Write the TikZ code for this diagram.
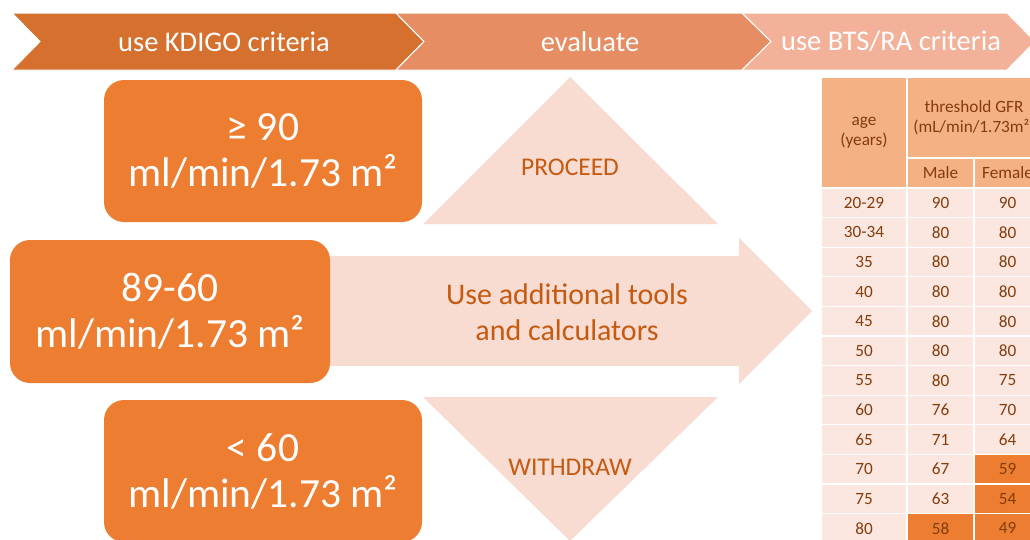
\documentclass[tikz,border=0pt]{standalone}
\usepackage{fontspec}
\setmainfont{Carlito}
\definecolor{chevA}{HTML}{D5702E}
\definecolor{chevB}{HTML}{E68D63}
\definecolor{chevC}{HTML}{F2B198}
\definecolor{boxor}{HTML}{ED7D31}
\definecolor{pinkish}{HTML}{F8DBD1}
\definecolor{darkor}{HTML}{C55A11}
\definecolor{thead}{HTML}{F4B183}
\definecolor{tbody}{HTML}{FBE7DF}
\definecolor{tbrown}{HTML}{843C0C}
\tikzset{
  chev/.style={draw=white, line width=1pt},
  chevtext/.style={text=white, font=\fontsize{28.5}{30}\selectfont},
  gfrbox/.style={fill=boxor, rounded corners=20pt, text=white, align=center,
    minimum width=318pt, minimum height=142pt, inner sep=0pt,
    font=\fontsize{41.5}{46}\selectfont},
  pinkshape/.style={fill=pinkish, draw=none},
  shapetext/.style={text=darkor, align=center},
  cell/.style={draw=white, line width=1.2pt, inner sep=0pt, text=tbrown,
    align=center, font=\fontsize{17.2}{20.5}\selectfont},
}
\begin{document}
\begin{tikzpicture}[x=1pt,y=-1pt]
\useasboundingbox (0,0) rectangle (1030,539);
\fill[white] (0,0) rectangle (1030,539);
\clip (0,0) rectangle (1030,539);

% header chevrons
\draw[chev, fill=chevA] (12,13) -- (396,13) -- (424,41.5) -- (396,70) -- (12,70) -- (40,41.5) -- cycle;
\draw[chev, fill=chevB] (396,13) -- (742,13) -- (771,41.5) -- (742,70) -- (396,70) -- (424,41.5) -- cycle;
\draw[chev, fill=chevC] (742,13) -- (1007,13) -- (1035,41.5) -- (1007,70) -- (742,70) -- (771,41.5) -- cycle;
\node[chevtext] (h1) at (224,41.5) {use KDIGO criteria};
\node[chevtext] (h2) at (590,41.5) {evaluate};
\node[chevtext] (h3) at (891,41.5) {use BTS/RA criteria};

% light shapes
\fill[pinkshape] (423,224) -- (570,77) -- (718,224) -- cycle;
\fill[pinkshape] (423,397) -- (718,397) -- (570,541) -- cycle;
\fill[pinkshape] (300,256) -- (739,256) -- (739,238) -- (812,311) -- (739,384) -- (739,366) -- (300,366) -- cycle;
\node[shapetext, font=\fontsize{25.5}{30}\selectfont] (proceed) at (570,167) {PROCEED};
\node[shapetext, font=\fontsize{25.5}{30}\selectfont] (withdraw) at (570,467) {WITHDRAW};
\node[shapetext, font=\fontsize{30}{36}\selectfont] (tools) at (567,312) {Use additional tools\\and calculators};

% orange boxes
\node[gfrbox] (b1) at (263,151) {≥ 90\\ml/min/1.73 m²};
\node[gfrbox, minimum width=320pt, minimum height=143pt] (b2) at (170,311.5) {89-60\\ml/min/1.73 m²};
\node[gfrbox] (b3) at (263,471) {< 60\\ml/min/1.73 m²};

% table header
\node[cell, fill=thead, minimum width=86pt, minimum height=111pt] (tage) at (864,132.5) {age\\(years)};
\node[cell, fill=thead, minimum width=134pt, minimum height=81pt] (tgfr) at (974,117.5) {threshold GFR\\(mL/min/1.73m²)};
\node[cell, fill=thead, minimum width=67pt, minimum height=30pt] (tmale) at (940.5,173) {Male};
\node[cell, fill=thead, minimum width=67pt, minimum height=30pt] (tfem) at (1007.5,173) {Female};

% table body
\foreach \a/\m/\f/\cm/\cf [count=\i from 0] in {
  20-29/90/90/tbody/tbody, 30-34/80/80/tbody/tbody, 35/80/80/tbody/tbody,
  40/80/80/tbody/tbody, 45/80/80/tbody/tbody, 50/80/80/tbody/tbody,
  55/80/75/tbody/tbody, 60/76/70/tbody/tbody, 65/71/64/tbody/tbody,
  70/67/59/tbody/boxor, 75/63/54/tbody/boxor, 80/58/49/boxor/boxor}{
  \pgfmathsetmacro{\yy}{202.8+29.6*\i}
  \node[cell, fill=tbody, minimum width=86pt, minimum height=29.6pt] (ra\i) at (864,\yy) {\a};
  \node[cell, fill=\cm, minimum width=67pt, minimum height=29.6pt] (rm\i) at (940.5,\yy) {\m};
  \node[cell, fill=\cf, minimum width=67pt, minimum height=29.6pt] (rf\i) at (1007.5,\yy) {\f};
}
\end{tikzpicture}
\end{document}
